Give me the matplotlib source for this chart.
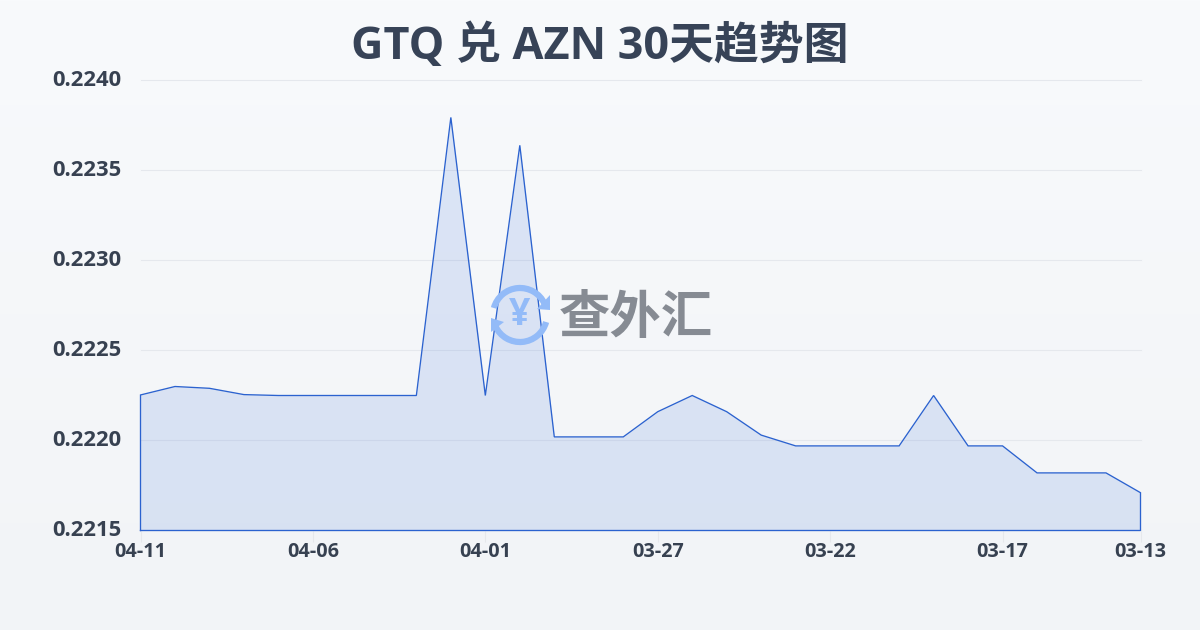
import numpy as np
import matplotlib
matplotlib.use("Agg")
import matplotlib.pyplot as plt
from matplotlib.patches import Arc, Polygon

title = "GTQ 兑 AZN 30天趋势图"
watermark = "查外汇"
dates = ["04-11", "04-10", "04-09", "04-08", "04-07", "04-06", "04-05", "04-04", "04-03", "04-02",
         "04-01", "03-31", "03-30", "03-29", "03-28", "03-27", "03-26", "03-25", "03-24", "03-23",
         "03-22", "03-21", "03-20", "03-19", "03-18", "03-17", "03-16", "03-15", "03-14", "03-13"]
rates = [0.222253, 0.22230, 0.22229, 0.222255, 0.22225, 0.22225, 0.22225, 0.22225, 0.22225, 0.223795,
         0.22225, 0.223640, 0.22202, 0.22202, 0.22202, 0.22216, 0.22225, 0.22216, 0.22203, 0.22197,
         0.22197, 0.22197, 0.22197, 0.22225, 0.22197, 0.22197, 0.22182, 0.22182, 0.22182, 0.22171]
y_ticks = [0.2215, 0.2220, 0.2225, 0.2230, 0.2235, 0.2240]
x_tick_idx = [0, 5, 10, 15, 20, 25, 29]

W, H = 1200, 630
LATIN = ['Open Sans', 'Noto Sans CJK SC', 'DejaVu Sans']
plt.rcParams['font.family'] = LATIN
fig = plt.figure(figsize=(W / 100, H / 100), dpi=100)

bg = fig.add_axes([0, 0, 1, 1], zorder=0)
grad = np.linspace(0, 1, 256)[:, None, None] * (np.array([242, 244, 247]) - np.array([248, 250, 252])) + np.array([248, 250, 252])
bg.imshow(grad.astype(np.uint8), aspect='auto', extent=[0, 1, 0, 1])
bg.axis('off')

L, R, T, B = 140.5, 1140.5, 80.5, 530.5
ax = fig.add_axes([L / W, 1 - B / H, (R - L) / W, (B - T) / H], zorder=1)
ax.patch.set_alpha(0)
x = np.arange(len(rates))
ax.set_xlim(0, len(rates) - 1)
ax.set_ylim(0.2215, 0.2240)
ax.set_axisbelow(True)
ax.grid(axis='y', color='#e5e8ed', lw=0.8, clip_on=False)
ax.grid(axis='x', visible=False)
for s in ax.spines.values():
    s.set_visible(False)
ax.set_yticks(y_ticks, [f"{v:.4f}" for v in y_ticks], fontsize=15.8, fontweight='bold', color='#374151')
ax.set_xticks(x_tick_idx, [dates[i] for i in x_tick_idx], fontsize=14.3, fontweight='bold', color='#374151')
ax.tick_params(axis='y', length=0, pad=14)
ax.tick_params(axis='x', length=8, width=0.8, color='#e6e8ec', pad=0.5, direction='out')
for lab in ax.get_yticklabels():
    lab.set_verticalalignment('center')

ax.fill_between(x, rates, 0.2215, color='#2563d8', alpha=0.13, lw=0, zorder=2)
ax.plot(np.r_[x[0], x, x[-1], x[0]],
        np.r_[0.2215, rates, 0.2215, 0.2215],
        color='#2b62cf', lw=0.95, zorder=4, clip_on=False, solid_joinstyle='miter')

fig.text(600 / W, 1 - 47 / H, title, ha='center', va='center', fontsize=32.3, fontweight='bold', color='#374357')

# watermark logo, positioned in pixels
ov = fig.add_axes([0, 0, 1, 1], zorder=2)
ov.set_xlim(0, W); ov.set_ylim(H, 0); ov.axis('off'); ov.patch.set_alpha(0)
blue = '#93bbf8'
cx, cy, r = 520, 315, 27
ov.add_patch(Arc((cx, cy), 2 * r, 2 * r, theta1=195, theta2=335, color=blue, lw=4.5, zorder=3))
ov.add_patch(Arc((cx, cy), 2 * r, 2 * r, theta1=15, theta2=155, color=blue, lw=4.5, zorder=3))
ov.add_patch(Polygon([[537, 309], [550, 295], [550, 310]], color=blue, lw=0, zorder=3))
ov.add_patch(Polygon([[491, 318], [504, 322], [491, 332]], color=blue, lw=0, zorder=3))
ov.text(520, 315, "¥", ha='center', va='center', fontsize=27, fontweight='bold', color=blue)
ov.text(635.5, 317, watermark, ha='center', va='center', fontsize=37, fontweight='bold', color='#868b93',
        family=['Noto Sans CJK SC', 'DejaVu Sans'])

fig.savefig("out.png", dpi=100)
